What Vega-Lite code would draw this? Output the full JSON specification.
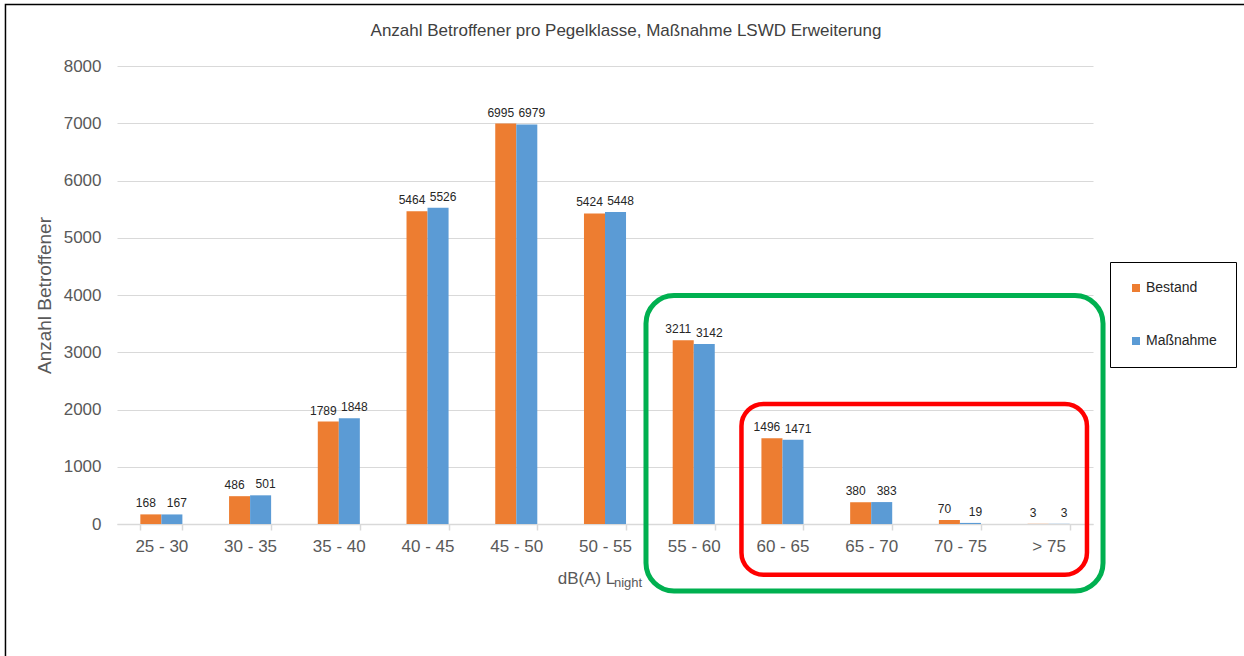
{
  "$schema": "https://vega.github.io/schema/vega-lite/v6.json",
  "width": 976,
  "height": 458,
  "autosize": "none",
  "padding": {"left": 117, "top": 66, "right": 151, "bottom": 132},
  "background": "white",
  "config": {"view": {"stroke": null}, "font": "Liberation Sans"},
  "title": {
    "text": "Anzahl Betroffener pro Pegelklasse, Maßnahme LSWD Erweiterung",
    "fontSize": 17,
    "fontWeight": "normal",
    "color": "#404040",
    "anchor": "middle",
    "frame": "group",
    "dx": 21,
    "offset": -36
  },
  "resolve": {"scale": {"x": "independent", "y": "independent"}},
  "layer": [
    {
      "data": {"name": "werte"},
      "encoding": {
        "x": {
          "field": "Klasse",
          "type": "nominal",
          "sort": null,
          "scale": {
            "domain": ["25 - 30", "30 - 35", "35 - 40", "40 - 45", "45 - 50", "50 - 55", "55 - 60", "60 - 65", "65 - 70", "70 - 75", "> 75"],
            "paddingInner": 0.526,
            "paddingOuter": 0.263
          },
          "axis": {
            "title": "dB(A) L",
            "titleFontSize": 17,
            "titleFontWeight": "normal",
            "titleColor": "#595959",
            "titleX": 469,
            "titleY": 54,
            "titleBaseline": "middle",
            "labelFontSize": 17,
            "labelColor": "#595959",
            "labelAngle": 0,
            "labelPadding": 8,
            "domainColor": "#d9d9d9",
            "domainWidth": 1.5,
            "tickColor": "#d9d9d9",
            "tickWidth": 1.5,
            "tickSize": 6,
            "tickBand": "extent",
            "grid": false
          }
        },
        "xOffset": {"field": "Serie", "type": "nominal", "sort": ["Bestand", "Maßnahme"]},
        "y": {
          "field": "Wert",
          "type": "quantitative",
          "scale": {"domain": [0, 8000], "nice": false},
          "axis": {
            "title": "Anzahl Betroffener",
            "titleFontSize": 19,
            "titleFontWeight": "normal",
            "titleColor": "#595959",
            "titlePadding": 9,
            "labelFontSize": 17,
            "labelColor": "#595959",
            "labelPadding": 16,
            "labelOverlap": false,
            "format": "d",
            "ticks": false,
            "tickSize": 0,
            "domain": false,
            "values": [0, 1000, 2000, 3000, 4000, 5000, 6000, 7000, 8000],
            "gridColor": "#d9d9d9",
            "gridWidth": 1
          }
        }
      },
      "layer": [
        {
          "mark": {"type": "bar"},
          "encoding": {
            "color": {
              "field": "Serie",
              "type": "nominal",
              "scale": {"domain": ["Bestand", "Maßnahme"], "range": ["#ED7D31", "#5B9BD5"]},
              "legend": {
                "orient": "none",
                "legendX": 993,
                "legendY": 196,
                "title": null,
                "strokeColor": "#000000",
                "fillColor": "#ffffff",
                "padding": 19,
                "symbolType": "square",
                "symbolSize": 64,
                "symbolStrokeWidth": 0,
                "labelFontSize": 14,
                "labelColor": "#262626",
                "labelOffset": 3,
                "rowPadding": 39
              }
            }
          }
        },
        {
          "transform": [{"filter": "datum.Serie === 'Bestand'"}],
          "mark": {"type": "text", "baseline": "bottom", "dy": -4, "dx": -5, "fontSize": 12, "color": "#262626"},
          "encoding": {"text": {"field": "Wert", "type": "quantitative"}}
        },
        {
          "transform": [{"filter": "datum.Serie === 'Maßnahme'"}],
          "mark": {"type": "text", "baseline": "bottom", "dy": -4, "dx": 5, "fontSize": 12, "color": "#262626"},
          "encoding": {"text": {"field": "Wert", "type": "quantitative"}}
        }
      ]
    },
    {
      "data": {"values": [{"t": "night"}]},
      "mark": {"type": "text", "align": "left", "baseline": "middle", "fontSize": 13, "color": "#595959", "dx": 9},
      "encoding": {
        "x": {
          "datum": "50 - 55",
          "type": "nominal",
          "scale": {
            "type": "band",
            "domain": ["25 - 30", "30 - 35", "35 - 40", "40 - 45", "45 - 50", "50 - 55", "55 - 60", "60 - 65", "65 - 70", "70 - 75", "> 75"],
            "paddingInner": 0.526,
            "paddingOuter": 0.263
          },
          "axis": null
        },
        "y": {"datum": -1031, "type": "quantitative", "scale": {"domain": [0, 8000], "nice": false}, "axis": null},
        "text": {"field": "t", "type": "nominal"}
      }
    },
    {
      "data": {"values": [{"x1": -1.257, "x2": 14, "y1": -3000, "y2": 9074}]},
      "mark": {"type": "rect", "filled": false, "stroke": "#000000", "strokeWidth": 1.5},
      "encoding": {
        "x": {"field": "x1", "type": "quantitative", "scale": {"domain": [0, 11], "nice": false, "zero": false}, "axis": null},
        "x2": {"field": "x2"},
        "y": {"field": "y1", "type": "quantitative", "scale": {"domain": [0, 8000], "nice": false}, "axis": null},
        "y2": {"field": "y2"}
      }
    },
    {
      "data": {"values": [{"x1": 5.962, "x2": 11.113, "y1": -1170, "y2": 3991}]},
      "mark": {"type": "rect", "filled": false, "stroke": "#00B050", "strokeWidth": 5, "cornerRadius": 28},
      "encoding": {
        "x": {"field": "x1", "type": "quantitative", "scale": {"domain": [0, 11], "nice": false, "zero": false}, "axis": null},
        "x2": {"field": "x2"},
        "y": {"field": "y1", "type": "quantitative", "scale": {"domain": [0, 8000], "nice": false}, "axis": null},
        "y2": {"field": "y2"}
      }
    },
    {
      "data": {"values": [{"x1": 7.038, "x2": 10.932, "y1": -886, "y2": 2096}]},
      "mark": {"type": "rect", "filled": false, "stroke": "#FF0000", "strokeWidth": 4.5, "cornerRadius": 22},
      "encoding": {
        "x": {"field": "x1", "type": "quantitative", "scale": {"domain": [0, 11], "nice": false, "zero": false}, "axis": null},
        "x2": {"field": "x2"},
        "y": {"field": "y1", "type": "quantitative", "scale": {"domain": [0, 8000], "nice": false}, "axis": null},
        "y2": {"field": "y2"}
      }
    }
  ],
  "datasets": {
    "werte": [
      {"Klasse": "25 - 30", "Serie": "Bestand", "Wert": 168},
      {"Klasse": "25 - 30", "Serie": "Maßnahme", "Wert": 167},
      {"Klasse": "30 - 35", "Serie": "Bestand", "Wert": 486},
      {"Klasse": "30 - 35", "Serie": "Maßnahme", "Wert": 501},
      {"Klasse": "35 - 40", "Serie": "Bestand", "Wert": 1789},
      {"Klasse": "35 - 40", "Serie": "Maßnahme", "Wert": 1848},
      {"Klasse": "40 - 45", "Serie": "Bestand", "Wert": 5464},
      {"Klasse": "40 - 45", "Serie": "Maßnahme", "Wert": 5526},
      {"Klasse": "45 - 50", "Serie": "Bestand", "Wert": 6995},
      {"Klasse": "45 - 50", "Serie": "Maßnahme", "Wert": 6979},
      {"Klasse": "50 - 55", "Serie": "Bestand", "Wert": 5424},
      {"Klasse": "50 - 55", "Serie": "Maßnahme", "Wert": 5448},
      {"Klasse": "55 - 60", "Serie": "Bestand", "Wert": 3211},
      {"Klasse": "55 - 60", "Serie": "Maßnahme", "Wert": 3142},
      {"Klasse": "60 - 65", "Serie": "Bestand", "Wert": 1496},
      {"Klasse": "60 - 65", "Serie": "Maßnahme", "Wert": 1471},
      {"Klasse": "65 - 70", "Serie": "Bestand", "Wert": 380},
      {"Klasse": "65 - 70", "Serie": "Maßnahme", "Wert": 383},
      {"Klasse": "70 - 75", "Serie": "Bestand", "Wert": 70},
      {"Klasse": "70 - 75", "Serie": "Maßnahme", "Wert": 19},
      {"Klasse": "> 75", "Serie": "Bestand", "Wert": 3},
      {"Klasse": "> 75", "Serie": "Maßnahme", "Wert": 3}
    ]
  }
}
